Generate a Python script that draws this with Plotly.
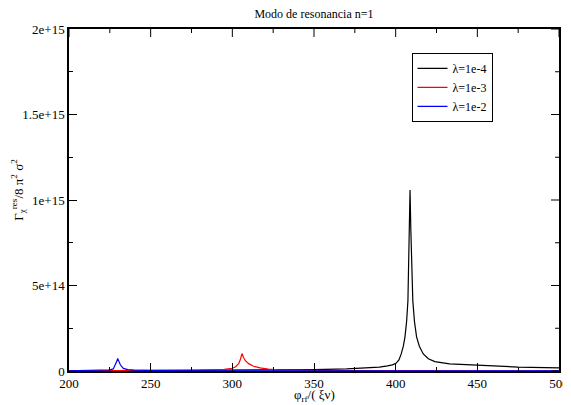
import plotly.graph_objects as go

# lambda = 1e-4 (black)
x_l4 = [200, 250, 300, 350, 370, 380, 390, 395, 398, 400.2, 402, 403.4, 404.7, 405.7, 406.7,
        407.5, 407.9, 408.3, 408.8, 409.3, 409.9, 410.5, 411.5, 412.8, 414.5, 416.9, 420,
        424, 433, 450, 475, 500]
y_l4 = [1.0e12, 2.0e12, 4.0e12, 8.0e12, 1.2e13, 1.6e13, 2.3e13, 3.0e13, 3.6e13, 4.5e13, 6.5e13,
        1.0e14, 1.45e14, 2.0e14, 2.9e14, 4.1e14, 6.0e14, 8.2e14, 1.058e15, 8.2e14, 6.0e14,
        4.1e14, 2.9e14, 2.0e14, 1.45e14, 1.0e14, 7.2e13, 5.5e13, 4.2e13, 3.3e13, 2.3e13, 1.8e13]

# lambda = 1e-3 (red)
x_l3 = [200, 250, 280, 295, 300, 302, 304, 305, 305.9, 306.8, 308, 310, 313, 317, 322, 328,
        340, 360, 400, 500]
y_l3 = [1.0e12, 2.5e12, 5.0e12, 1.0e13, 1.6e13, 2.5e13, 4.5e13, 7.0e13, 1.02e14, 8.0e13,
        6.0e13, 4.3e13, 2.8e13, 1.8e13, 1.1e13, 7.0e12, 4.5e12, 3.0e12, 2.0e12, 1.0e12]

# lambda = 1e-2 (blue)
x_l2 = [200, 220, 225, 227.1, 228.5, 229.2, 229.8, 230.5, 231.5, 233.3, 236, 240, 250, 300, 500]
y_l2 = [1.5e12, 4.0e12, 7.0e12, 1.2e13, 3.5e13, 5.5e13, 7.3e13, 5.5e13, 3.5e13, 1.5e13,
        8.0e12, 5.0e12, 3.0e12, 1.5e12, 5.0e11]

series_names = ["λ=1e-4", "λ=1e-3", "λ=1e-2"]
series_colors = ["#000000", "#ff0000", "#0000ff"]

x_ticks = [200, 250, 300, 350, 400, 450, 500]
x_minor_ticks = [225, 275, 325, 375, 425, 475]
y_ticks = [0, 5e14, 1e15, 1.5e15, 2e15]
y_minor_ticks = [2.5e14, 7.5e14, 1.25e15, 1.75e15]
y_tick_labels = ["0", "5e+14", "1e+15", "1.5e+15", "2e+15"]
x_range = [200, 500]
y_range = [0, 2e15]

fig = go.Figure()
for xs, ys, name, col in zip([x_l4, x_l3, x_l2], [y_l4, y_l3, y_l2], series_names, series_colors):
    fig.add_trace(go.Scatter(x=xs, y=ys, mode="lines", name=name,
                             line=dict(color=col, width=1.2)))

font_family = "Liberation Serif, Times New Roman, Times, serif"
minor_x = dict(dtick=25, tick0=200, ticks="inside", ticklen=4, tickcolor="black", tickwidth=1)
minor_y = dict(dtick=2.5e14, tick0=0, ticks="inside", ticklen=4, tickcolor="black", tickwidth=1)

fig.update_layout(
    width=563, height=397,
    margin=dict(l=61, r=12, t=21, b=34, autoexpand=False),
    paper_bgcolor="white", plot_bgcolor="white",
    font=dict(family=font_family, size=13, color="black"),
    title=dict(text="Modo de resonancia n=1", x=0.5, xanchor="center", xref="paper",
               y=0.985, yanchor="middle", font=dict(size=12, family=font_family)),
    showlegend=True,
    legend=dict(x=0.699, y=0.93, xanchor="left", yanchor="top",
                bgcolor="white", bordercolor="black", borderwidth=1,
                font=dict(size=12, family=font_family), tracegroupgap=0,
                itemwidth=30),
    xaxis=dict(range=x_range, tickvals=x_ticks, tickfont=dict(size=13, family=font_family),
               ticklabeloverflow="allow", ticks="inside", ticklen=8, tickwidth=1, tickcolor="black",
               showline=True, linecolor="black", linewidth=1.5, mirror=True,
               showgrid=False, zeroline=False, minor=minor_x),
    yaxis=dict(range=y_range, tickvals=y_ticks, ticktext=y_tick_labels,
               tickfont=dict(size=13, family=font_family), ticklabeloverflow="allow",
               ticks="inside", ticklen=8, tickwidth=1, tickcolor="black",
               showline=True, linecolor="black", linewidth=1.5, mirror=True,
               showgrid=False, zeroline=False, minor=minor_y),
    annotations=[
        dict(text="φ<sub>rf</sub>/( ξν)", xref="paper", yref="paper", x=0.5, y=-0.073,
             xanchor="center", yanchor="middle", showarrow=False,
             font=dict(size=13, family=font_family)),
        dict(text="Γ<sub>χ</sub><sup>res</sup>/8 π<sup>2</sup> σ<sup>2</sup>", xref="paper", yref="paper",
             x=-0.104, y=0.53, xanchor="center", yanchor="middle", textangle=-90, showarrow=False,
             font=dict(size=13, family=font_family)),
    ],
)

# mirrored ticks on the top and right frame edges, placed through the axes' scales
for t in x_ticks:
    fig.add_shape(type="line", xref="x", yref="y domain", x0=t, x1=t, y0=1, y1=1 - 8 / 342,
                  line=dict(color="black", width=1), layer="above")
for t in x_minor_ticks:
    fig.add_shape(type="line", xref="x", yref="y domain", x0=t, x1=t, y0=1, y1=1 - 4 / 342,
                  line=dict(color="black", width=1), layer="above")
for t in y_ticks:
    fig.add_shape(type="line", xref="x domain", yref="y", x0=1, x1=1 - 8 / 490, y0=t, y1=t,
                  line=dict(color="black", width=1), layer="above")
for t in y_minor_ticks:
    fig.add_shape(type="line", xref="x domain", yref="y", x0=1, x1=1 - 4 / 490, y0=t, y1=t,
                  line=dict(color="black", width=1), layer="above")

fig.write_html("out.html")
